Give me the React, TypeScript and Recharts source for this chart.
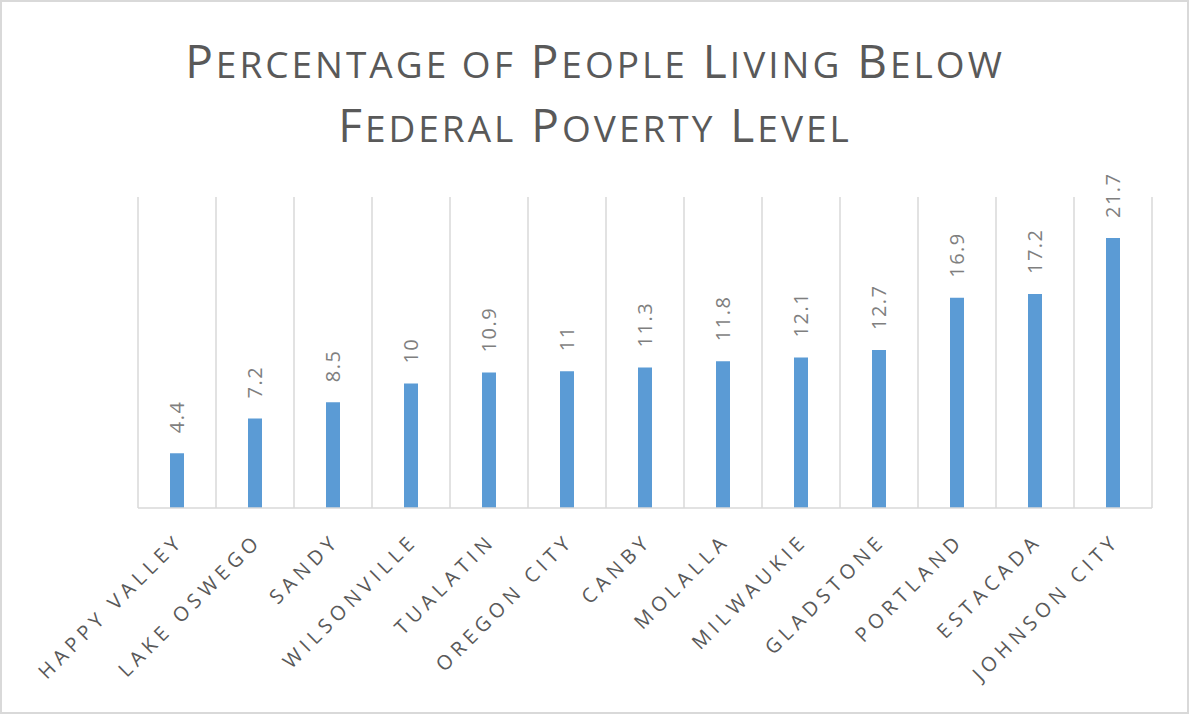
import { BarChart, Bar, XAxis, YAxis, CartesianGrid, LabelList } from 'recharts';

const cities = [
  'Happy Valley', 'Lake Oswego', 'Sandy', 'Wilsonville', 'Tualatin', 'Oregon City',
  'Canby', 'Molalla', 'Milwaukie', 'Gladstone', 'Portland', 'Estacada', 'Johnson City',
];
const povertyPct = [4.4, 7.2, 8.5, 10, 10.9, 11, 11.3, 11.8, 12.1, 12.7, 16.9, 17.2, 21.7];
const titleLines = ['Percentage of People Living Below', 'Federal Poverty Level'];

const data = cities.map((city, i) => ({ city, value: povertyPct[i] }));

const FONT = '"Open Sans", "DejaVu Sans", sans-serif';

// small caps title: capitalised letters big, everything else smaller uppercase
const SmallCaps = ({ text, x, y }: { text: string; x: number; y: number }) => {
  const words = text.split(' ');
  return (
    <text x={x} y={y} textAnchor="middle" fill="#595959" fontFamily={FONT} letterSpacing={3}>
      {words.map((w, i) => {
        const big = w[0] === w[0].toUpperCase();
        return (
          <tspan key={i}>
            <tspan fontSize={big ? 46 : 37}>{(i > 0 ? ' ' : '') + w[0].toUpperCase()}</tspan>
            <tspan fontSize={37}>{w.slice(1).toUpperCase()}</tspan>
          </tspan>
        );
      })}
    </text>
  );
};

const CityTick = ({ x, y, payload }: any) => (
  <g transform={`translate(${x + 8},${y + 26})`}>
    <text
      transform="rotate(-45)"
      textAnchor="end"
      fill="#595959"
      fontFamily={FONT}
      fontSize={20}
      letterSpacing={5}
    >
      {String(payload.value).toUpperCase()}
    </text>
  </g>
);

const ValueLabel = ({ x, y, width, value }: any) => {
  const cx = x + width / 2;
  const ty = y - 20;
  return (
    <text
      x={cx}
      y={ty}
      transform={`rotate(-90, ${cx}, ${ty})`}
      textAnchor="start"
      dominantBaseline="central"
      fill="#7f7f7f"
      fontFamily={FONT}
      fontSize={20}
      letterSpacing={1.5}
    >
      {value}
    </text>
  );
};

export default function App() {
  return (
    <div
      style={{
        position: 'absolute',
        left: 0,
        top: 0,
        width: 1189,
        height: 714,
        background: '#fff',
        border: '2px solid #d9d9d9',
        boxSizing: 'border-box',
      }}
    >
      <svg width={1189} height={714} style={{ position: 'absolute', left: -2, top: -2 }}>
        <SmallCaps text={titleLines[0]} x={595} y={78} />
        <SmallCaps text={titleLines[1]} x={595} y={142} />
      </svg>
      <div style={{ position: 'absolute', left: -2, top: -2 }}>
        <BarChart
          width={1189}
          height={714}
          data={data}
          margin={{ top: 197, right: 37, left: 138, bottom: 176 }}
        >
          <CartesianGrid
            horizontal={false}
            stroke="#d9d9d9"
            strokeWidth={1.5}
            verticalCoordinatesGenerator={({ offset }: any) =>
              cities.map((_, i) => offset.left + (i * offset.width) / cities.length).concat(offset.left + offset.width)
            }
          />
          <XAxis
            dataKey="city"
            interval={0}
            height={30}
            tickLine={false}
            axisLine={{ stroke: '#d9d9d9', strokeWidth: 1.5 }}
            tick={<CityTick />}
          />
          <YAxis hide domain={[0, 25]} />
          <Bar dataKey="value" fill="#5b9bd5" barSize={14} isAnimationActive={false}>
            <LabelList dataKey="value" content={<ValueLabel />} />
          </Bar>
        </BarChart>
      </div>
    </div>
  );
}
